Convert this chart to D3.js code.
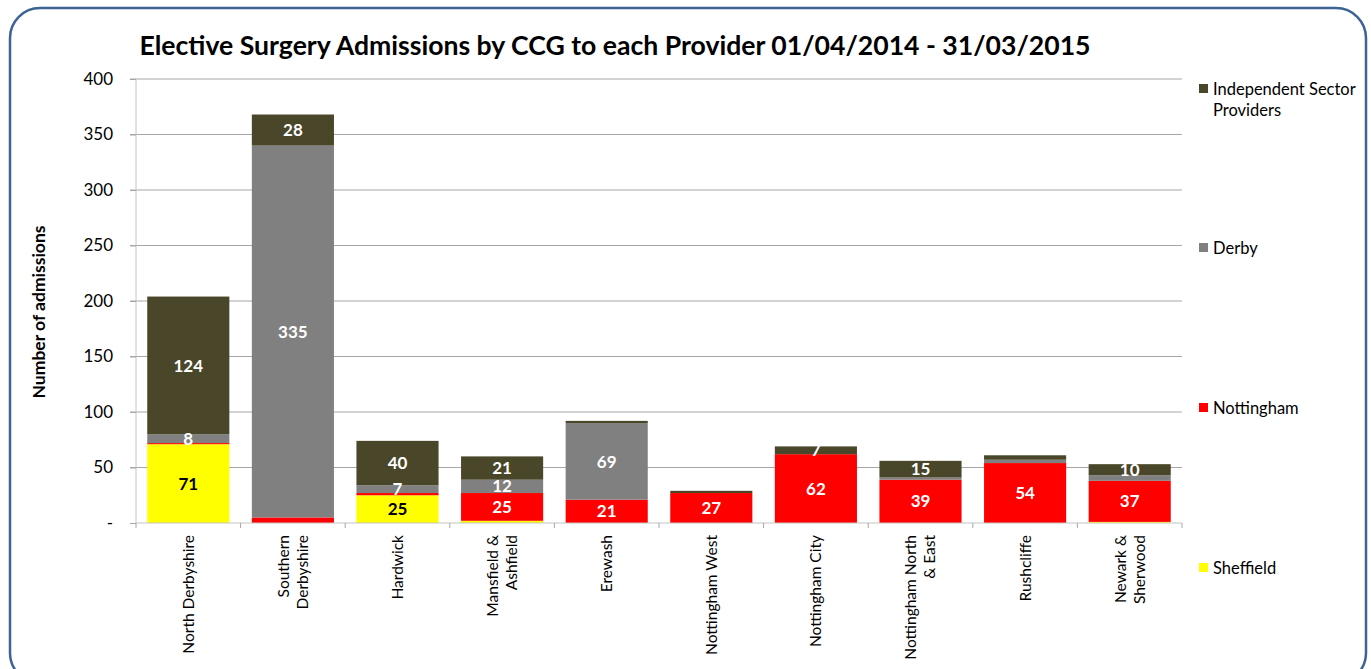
<!DOCTYPE html>
<html>
<head>
<meta charset="utf-8">
<script src="https://cdn.jsdelivr.net/npm/d3@7"></script>
<style>
  body { margin: 0; background: #fff; }
  svg text { font-family: Lato, "Open Sans", sans-serif; }
</style>
</head>
<body>
<svg id="chart" width="1371" height="669"></svg>
<script>
// ---- data
var categories = ["North Derbyshire", "Southern Derbyshire", "Hardwick", "Mansfield & Ashfield", "Erewash",
  "Nottingham West", "Nottingham City", "Nottingham North & East", "Rushcliffe", "Newark & Sherwood"];
var categoryLines = [["North Derbyshire"], ["Southern", "Derbyshire"], ["Hardwick"], ["Mansfield &", "Ashfield"], ["Erewash"],
  ["Nottingham West"], ["Nottingham City"], ["Nottingham North", "& East"], ["Rushcliffe"], ["Newark &", "Sherwood"]];
var sheffield   = [71, 0, 25, 2, 0, 0, 0, 0, 0, 1];
var nottingham  = [1, 5, 2, 25, 21, 27, 62, 39, 54, 37];
var derby       = [8, 335, 7, 12, 69, 0, 0, 2, 3, 5];
var independent = [124, 28, 40, 21, 2, 2, 7, 15, 4, 10];
var yTicks = [0, 50, 100, 150, 200, 250, 300, 350, 400];

var seriesNames = ["Sheffield", "Nottingham", "Derby", "Independent Sector Providers"];
var seriesColors = ["#ffff00", "#ff0000", "#808080", "#4a462a"];
var labelColors = ["#000", "#fff", "#fff", "#fff"];

var svg = d3.select("#chart");
var margin = { top: 79, left: 136, right: 189, bottom: 146 },
  width = 1371 - margin.left - margin.right,
  height = 669 - margin.top - margin.bottom;

// border
svg.append("rect").attr("x", 10).attr("y", 8).attr("width", 1356).attr("height", 675)
  .attr("rx", 30).attr("ry", 30).attr("fill", "none").attr("stroke", "#3c6395").attr("stroke-width", 2.5);

// title
svg.append("text").attr("x", 615).attr("y", 55).attr("text-anchor", "middle")
  .style("font-size", "26.6px").style("font-weight", "bold").attr("fill", "#000")
  .text("Elective Surgery Admissions by CCG to each Provider 01/04/2014 - 31/03/2015");

var table = categories.map(function (c, i) {
  return { cat: c, Sheffield: sheffield[i], Nottingham: nottingham[i], Derby: derby[i], "Independent Sector Providers": independent[i] };
});
var stacked = d3.stack().keys(seriesNames)(table);

var x = d3.scaleBand().domain(categories).range([0, width]).paddingInner(0.215).paddingOuter(0.1075);
var y = d3.scaleLinear().domain([0, 400]).range([height, 0]);

var g = svg.append("g").attr("transform", "translate(" + margin.left + "," + margin.top + ")");

// gridlines
g.selectAll(".grid").data(yTicks.slice(1)).join("line").attr("class", "grid")
  .attr("x1", -6).attr("x2", width).attr("y1", d => y(d)).attr("y2", d => y(d))
  .attr("stroke", "#a6a6a6").attr("stroke-width", 1);

// y axis
var yAxis = g.append("g").call(d3.axisLeft(y).tickValues(yTicks).tickSize(6).tickPadding(17)
  .tickFormat(d => d === 0 ? "-" : d));
yAxis.selectAll("text").style("font-size", "17px").attr("fill", "#000");
yAxis.selectAll(".tick line,.domain").attr("stroke", "#a6a6a6");
yAxis.select(".domain").attr("d", "M0,0V" + height).attr("stroke", "#c4c4c4");

// y title
svg.append("text").attr("transform", "translate(39," + 312 + ") rotate(-90)")
  .attr("dy", "0.35em").attr("text-anchor", "middle").style("font-size", "17.5px").style("font-weight", "bold")
  .text("Number of admissions");

// bars
g.selectAll(".series").data(stacked).join("g").attr("class", "series")
  .attr("fill", (d, i) => seriesColors[i])
  .selectAll("rect").data(d => d).join("rect")
  .attr("x", d => x(d.data.cat)).attr("width", x.bandwidth())
  .attr("y", d => y(d[1])).attr("height", d => y(d[0]) - y(d[1]));

// value labels (Excel leaves off the small ones)
stacked.forEach(function (s, si) {
  g.selectAll(".lbl" + si).data(s.filter(d => d[1] - d[0] >= 7)).join("text").attr("class", "lbl" + si)
    .attr("x", d => x(d.data.cat) + x.bandwidth() / 2)
    .attr("y", d => (y(d[0]) + y(d[1])) / 2)
    .attr("dy", "0.36em").attr("text-anchor", "middle")
    .style("font-size", "17px").style("font-weight", "bold").attr("fill", labelColors[si])
    .text(d => d[1] - d[0]);
});

// x axis
var xa = g.append("g").attr("transform", "translate(0," + height + ")");
xa.append("line").attr("x1", 0).attr("x2", width).attr("stroke", "#c4c4c4");
xa.selectAll(".xt").data(d3.range(categories.length + 1)).join("line").attr("class", "xt")
  .attr("x1", i => i * width / categories.length).attr("x2", i => i * width / categories.length)
  .attr("y1", 0).attr("y2", 5).attr("stroke", "#a6a6a6");
xa.selectAll(".xl").data(categories).join("text").attr("class", "xl")
  .attr("transform", (d) => "translate(" + (x(d) + x.bandwidth() / 2) + ",12) rotate(-90)")
  .attr("text-anchor", "end").style("font-size", "15.5px").attr("fill", "#000")
  .each(function (d, i) {
    var lines = categoryLines[i];
    var t = d3.select(this);
    lines.forEach(function (l, li) {
      t.append("tspan").attr("x", 0)
        .attr("y", (li - (lines.length - 1) / 2) * 19)
        .attr("dy", "0.35em").text(l);
    });
  });

// legend
var legendY = [89, 248, 408, 568];
var legendOrder = [3, 2, 1, 0];
var lg = svg.append("g");
legendOrder.forEach(function (si, k) {
  lg.append("rect").attr("x", 1199).attr("y", legendY[k] - 5).attr("width", 9).attr("height", 9).attr("fill", seriesColors[si]);
  var t = lg.append("text").attr("x", 1213).attr("y", legendY[k]).attr("dy", "0.35em")
    .style("font-size", "16.5px").attr("fill", "#000");
  if (si === 3) {
    t.append("tspan").attr("x", 1213).text("Independent Sector");
    t.append("tspan").attr("x", 1213).attr("dy", "1.3em").text("Providers");
  } else {
    t.text(seriesNames[si]);
  }
});
</script>
</body>
</html>
